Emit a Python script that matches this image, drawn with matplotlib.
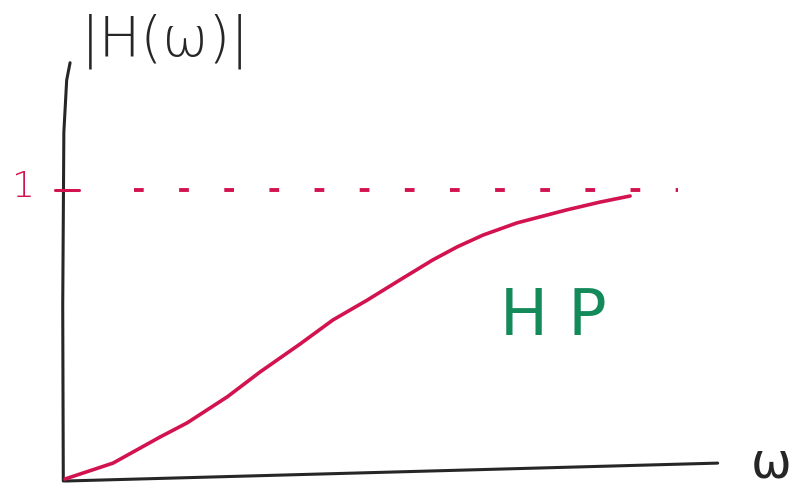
import matplotlib
matplotlib.use("Agg")
import matplotlib.pyplot as plt

# Sketch of a high-pass filter magnitude response |H(w)|
omega = [0.0, 0.85, 1.68, 2.16, 2.87, 3.45, 4.16, 4.74, 5.35, 5.93,
         6.51, 6.94, 7.40, 8.00, 8.88, 9.47, 10.0]
magnitude = [0.0, 0.055, 0.145, 0.194, 0.284, 0.370, 0.467, 0.550, 0.619,
             0.689, 0.758, 0.803, 0.844, 0.886, 0.931, 0.958, 0.979]

passband_gain = 1.0
gain_label = "1"
y_label = "|H(ω)|"
x_label = "ω"
curve_label = "H P"

RED = "#d3134f"
GREEN = "#14895a"
INK = "#262626"

plt.rcParams["lines.scale_dashes"] = False
plt.rcParams["font.family"] = ["DejaVu Sans"]

fig = plt.figure(figsize=(8.03, 4.91), dpi=100)
ax = fig.add_axes([0, 0, 1, 1])
ax.set_xlim(-1.15, 13.06)
ax.set_ylim(-0.0415, 1.657)
ax.axis("off")

# hand-drawn axes
ax.plot([0.0, 11.55], [-0.007, 0.055], color=INK, lw=2.2, solid_capstyle="round")
ax.plot([-0.03, -0.04, -0.02, 0.03, 0.09],
        [-0.007, 0.6, 1.2, 1.38, 1.44], color=INK, lw=2.2,
        solid_capstyle="round")

# passband reference level
ax.plot([1.22, 10.85], [passband_gain, passband_gain], color=RED, lw=2.8,
        dashes=(7, 25.5))
ax.plot([-0.17, 0.24], [passband_gain, passband_gain], color=RED, lw=2.2,
        solid_capstyle="round")
ax.text(-0.73, passband_gain + 0.01, gain_label, color=RED, fontsize=26,
        ha="center", va="center", fontweight="light")

# response curve
ax.plot(omega, magnitude, color=RED, lw=2.6, solid_capstyle="round",
        solid_joinstyle="round")

ax.text(0.28, 1.515, y_label, color=INK, fontsize=40, ha="left",
        va="center", fontweight="light")
ax.text(12.5, 0.005, x_label, color=INK, fontsize=35, ha="center",
        va="baseline")
ax.text(8.64, 0.56, curve_label, color=GREEN, fontsize=46, ha="center",
        va="center")

fig.savefig("out.png", dpi=100)
